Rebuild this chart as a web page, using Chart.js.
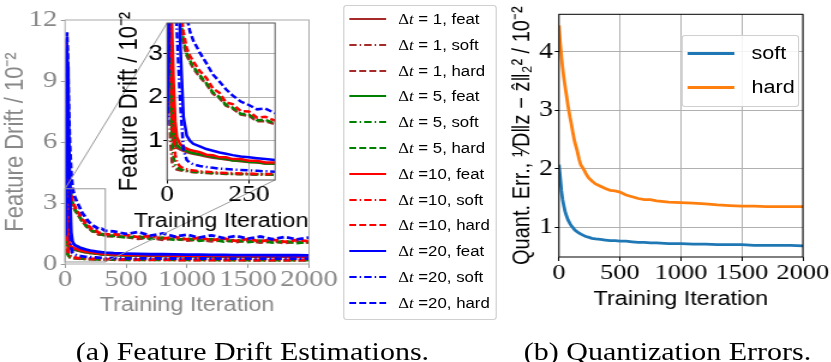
<!DOCTYPE html>
<html>
<head>
<meta charset="utf-8">
<script src="https://cdn.jsdelivr.net/npm/chart.js@4.4.1/dist/chart.umd.min.js"></script>
<style>
  html, body { margin: 0; padding: 0; background: #fff; overflow: hidden; }
  /* the figure is wider than tall in the original: draw at 1/1.2 and stretch */
  #page { position: relative; width: 692.5px; height: 362px; transform: scaleX(1.2); transform-origin: 0 0;
          font-family: 'Liberation Sans', Arial, sans-serif; }
  #page canvas { position: absolute; top: 0; }
  .legend { position: absolute; box-sizing: border-box; border: 1px solid #d0d0d0; border-radius: 3px;
            background: rgba(255,255,255,0.85); }
  .legend .row { position: absolute; left: 0; right: 0; height: 20px; }
  .legend svg, .legend .swatch { position: absolute; }
  .legend span.txt { position: absolute; top: 0; line-height: 20px; white-space: pre; color: #000; }
  .legend .m { font-family: 'Liberation Serif', serif; }
  .caption { position: absolute; top: 339px; font: 25px 'Liberation Serif', serif; line-height: 26px;
             text-align: center; white-space: nowrap; color: #000; }
</style>
</head>
<body>
<div id="page">
  <canvas id="cMain"  width="283" height="320" style="left:0;width:283px;height:320px"></canvas>
  <canvas id="cInset" width="175" height="240" style="left:95px;width:175px;height:240px;z-index:2"></canvas>
  <canvas id="cQuant" width="277" height="320" style="left:415px;width:277px;height:320px"></canvas>
  <div id="driftLegend" class="legend" style="left:285.8px;top:5px;width:128.4px;height:315px"></div>
  <div id="quantLegend" class="legend" style="left:568.3px;top:35px;width:97.5px;height:72px"></div>
  <div class="caption" style="left:10.4px;width:400px">(a) Feature Drift Estimations.</div>
  <div class="caption" style="left:406.3px;width:300px">(b) Quantization Errors.</div>
</div>
<script>
// ── DATA: feature drift (left) ──
const ITER = [0, 5, 10, 15, 20, 25, 30, 40, 50, 60, 70, 80, 100, 120, 140, 160, 180, 200, 225, 250,
              275, 300, 330, 400, 500, 600, 700, 800, 900, 1000, 1100, 1200, 1300, 1400, 1500, 1600,
              1700, 1800, 1900, 2000];

const FEAT_1  = [1.95, 4.0, 2.2, 1.2, 0.95, 0.88, 0.84, 0.8, 0.77, 0.74, 0.72, 0.7, 0.67, 0.64, 0.61, 0.59, 0.57, 0.55, 0.53, 0.51,
                 0.5, 0.48, 0.47, 0.44, 0.42, 0.41, 0.4, 0.4, 0.39, 0.39, 0.38, 0.38, 0.37, 0.37, 0.37, 0.36, 0.36, 0.36, 0.35, 0.35];
const SOFT_1  = [1.8, 2.5, 1.0, 0.52, 0.4, 0.36, 0.34, 0.32, 0.31, 0.3, 0.29, 0.28, 0.27, 0.26, 0.25, 0.25, 0.24, 0.24, 0.23, 0.23,
                 0.22, 0.22, 0.22, 0.21, 0.21, 0.2, 0.2, 0.2, 0.2, 0.19, 0.19, 0.19, 0.19, 0.19, 0.18, 0.18, 0.18, 0.18, 0.18, 0.18];
const HARD_1  = [1.9, 11.0, 9.4, 7.6, 6.2, 5.3, 4.6, 3.75, 3.22, 2.95, 2.8, 2.66, 2.46, 2.3, 2.08, 1.98, 1.8, 1.74, 1.6, 1.57,
                 1.45, 1.45, 1.38, 1.36, 1.33, 1.24, 1.29, 1.19, 1.25, 1.15, 1.21, 1.11, 1.18, 1.08, 1.15, 1.05, 1.12, 1.03, 1.1, 1.05];

const FEAT_5  = [1.9, 5.2, 3.8, 2.4, 1.4, 1.02, 0.9, 0.84, 0.8, 0.77, 0.74, 0.72, 0.69, 0.66, 0.63, 0.6, 0.59, 0.55, 0.55, 0.51,
                 0.51, 0.48, 0.48, 0.45, 0.43, 0.42, 0.41, 0.4, 0.4, 0.39, 0.39, 0.38, 0.38, 0.38, 0.37, 0.37, 0.37, 0.36, 0.36, 0.36];
const SOFT_5  = [1.7, 3.9, 2.3, 1.1, 0.62, 0.45, 0.39, 0.35, 0.33, 0.31, 0.3, 0.29, 0.28, 0.27, 0.26, 0.25, 0.25, 0.24, 0.24, 0.23,
                 0.23, 0.23, 0.22, 0.22, 0.21, 0.21, 0.21, 0.2, 0.2, 0.2, 0.2, 0.2, 0.19, 0.19, 0.19, 0.19, 0.19, 0.19, 0.19, 0.19];
const HARD_5  = [2.0, 9.4, 10.4, 8.4, 6.7, 5.6, 4.8, 3.85, 3.3, 3.0, 2.84, 2.7, 2.5, 2.32, 2.11, 2.0, 1.82, 1.76, 1.62, 1.6,
                 1.47, 1.48, 1.4, 1.39, 1.3, 1.36, 1.23, 1.3, 1.18, 1.25, 1.14, 1.22, 1.1, 1.18, 1.08, 1.15, 1.05, 1.13, 1.03, 1.09];

const FEAT_10 = [1.85, 6.1, 5.0, 3.6, 2.3, 1.45, 1.08, 0.92, 0.86, 0.82, 0.79, 0.77, 0.74, 0.68, 0.67, 0.62, 0.62, 0.58, 0.58, 0.54,
                 0.54, 0.5, 0.5, 0.47, 0.45, 0.44, 0.43, 0.42, 0.41, 0.41, 0.4, 0.4, 0.39, 0.39, 0.39, 0.38, 0.38, 0.38, 0.37, 0.37];
const SOFT_10 = [1.6, 4.9, 3.4, 2.1, 1.15, 0.68, 0.5, 0.41, 0.37, 0.35, 0.33, 0.32, 0.3, 0.29, 0.28, 0.27, 0.26, 0.26, 0.25, 0.25,
                 0.24, 0.24, 0.24, 0.23, 0.23, 0.22, 0.22, 0.22, 0.21, 0.21, 0.21, 0.21, 0.21, 0.2, 0.2, 0.2, 0.2, 0.2, 0.2, 0.2];
const HARD_10 = [1.9, 8.2, 11.1, 9.2, 7.3, 6.0, 5.1, 4.1, 3.5, 3.12, 2.95, 2.82, 2.6, 2.44, 2.2, 2.1, 1.88, 1.84, 1.68, 1.67,
                 1.53, 1.55, 1.46, 1.46, 1.43, 1.32, 1.38, 1.25, 1.33, 1.21, 1.3, 1.17, 1.26, 1.14, 1.23, 1.11, 1.2, 1.09, 1.18, 1.12];

const FEAT_20 = [1.5, 3.6, 7.2, 10.6, 9.7, 8.2, 6.6, 3.3, 1.55, 1.12, 1.0, 0.93, 0.87, 0.81, 0.77, 0.73, 0.7, 0.67, 0.64, 0.62,
                 0.6, 0.58, 0.56, 0.53, 0.51, 0.5, 0.48, 0.48, 0.47, 0.46, 0.46, 0.45, 0.45, 0.44, 0.44, 0.44, 0.43, 0.43, 0.43, 0.42];
const SOFT_20 = [1.35, 2.8, 4.8, 6.0, 5.3, 4.4, 3.5, 1.9, 0.8, 0.56, 0.49, 0.46, 0.42, 0.4, 0.38, 0.36, 0.35, 0.34, 0.33, 0.32,
                 0.31, 0.3, 0.29, 0.29, 0.28, 0.28, 0.28, 0.27, 0.27, 0.27, 0.27, 0.27, 0.26, 0.26, 0.26, 0.26, 0.26, 0.26, 0.26, 0.26];
const HARD_20 = [1.7, 4.2, 8.6, 11.4, 10.6, 9.0, 7.6, 5.7, 4.5, 3.85, 3.5, 3.3, 3.02, 2.78, 2.52, 2.36, 2.18, 2.04, 1.9, 1.82,
                 1.72, 1.74, 1.63, 1.6, 1.48, 1.57, 1.4, 1.5, 1.35, 1.44, 1.3, 1.41, 1.27, 1.38, 1.25, 1.35, 1.22, 1.33, 1.21, 1.3];

const DT        = [1, 5, 10, 20];
const DT_COLORS = ['#a52a2a', '#008000', '#ff0000', '#0000ff'];
const KINDS     = ['feat', 'soft', 'hard'];
const DASHES    = { feat: [], soft: [6.2, 2.5, 1.3, 2.5], hard: [5.8, 2.6] };
const SERIES = {
  feat: { 1: FEAT_1, 5: FEAT_5, 10: FEAT_10, 20: FEAT_20 },
  soft: { 1: SOFT_1, 5: SOFT_5, 10: SOFT_10, 20: SOFT_20 },
  hard: { 1: HARD_1, 5: HARD_5, 10: HARD_10, 20: HARD_20 },
};

const MAIN_X_TICKS  = [0, 500, 1000, 1500, 2000];
const MAIN_Y_TICKS  = [0, 3, 6, 9, 12];
const INSET_X_TICKS = [0, 250];
const INSET_Y_TICKS = [1, 2, 3];
const INSET_X_RANGE = [0, 330];
const INSET_Y_RANGE = [0.1, 3.7];

// ── DATA: quantization error (right) ──
const Q_ITER = [0, 10, 20, 30, 40, 50, 60, 75, 90, 100, 115, 130, 150, 165, 180, 200, 220, 240, 270, 300, 340,
                380, 420, 460, 500, 550, 600, 650, 700, 750, 800, 900, 1000, 1100, 1200, 1300, 1400, 1500,
                1600, 1700, 1800, 1900, 2000];
const Q_SOFT = [2.07, 1.85, 1.62, 1.47, 1.36, 1.27, 1.2, 1.12, 1.06, 1.03, 0.99, 0.95, 0.92, 0.9, 0.88, 0.86, 0.84,
                0.83, 0.81, 0.8, 0.79, 0.78, 0.77, 0.77, 0.76, 0.76, 0.75, 0.74, 0.74, 0.73, 0.73, 0.72, 0.72,
                0.71, 0.71, 0.7, 0.7, 0.7, 0.69, 0.69, 0.69, 0.69, 0.68];
const Q_HARD = [4.45, 4.15, 3.92, 3.72, 3.55, 3.41, 3.27, 3.06, 2.88, 2.78, 2.6, 2.45, 2.3, 2.16, 2.06, 2.0, 1.92,
                1.85, 1.79, 1.74, 1.7, 1.66, 1.63, 1.62, 1.6, 1.55, 1.52, 1.49, 1.47, 1.47, 1.45, 1.43, 1.42,
                1.41, 1.4, 1.38, 1.37, 1.36, 1.36, 1.35, 1.35, 1.35, 1.35];
const Q_LABELS = ['soft', 'hard'];
const Q_COLORS = ['#1f77b4', '#ff7f0e'];
const Q_Y_TICKS = [1, 2, 3, 4];

const SERIF = "'Liberation Serif', serif";
const SANS  = "'Liberation Sans', Arial, sans-serif";

// ── PLUGINS ──
const framePlugin = {
  id: 'frame',
  afterDatasetsDraw(chart, args, o) {
    const { ctx, chartArea: a } = chart;
    ctx.save();
    ctx.strokeStyle = o.color;
    ctx.lineWidth = 1;
    ctx.strokeRect(a.left, a.top, a.right - a.left, a.bottom - a.top);
    ctx.restore();
  },
};

const areaFill = {
  id: 'areaFill',
  beforeDraw(chart) {
    const { ctx, chartArea: a } = chart;
    ctx.save();
    ctx.fillStyle = '#fff';
    ctx.fillRect(a.left, a.top, a.right - a.left, a.bottom - a.top);
    ctx.restore();
  },
};

// axis titles drawn by hand so they are not squeezed to the plot width
const axisTitles = {
  id: 'axisTitles',
  afterDraw(chart, args, o) {
    const { ctx, chartArea: a } = chart;
    ctx.save();
    ctx.fillStyle = o.color;
    ctx.textAlign = 'center';
    ctx.textBaseline = 'middle';
    ctx.font = o.xFont;
    ctx.fillText(o.x, (a.left + a.right) / 2, a.bottom + o.xGap);
    ctx.font = o.yFont;
    ctx.translate(a.left - o.yGap, (a.top + a.bottom) / 2);
    ctx.rotate(-Math.PI / 2);
    ctx.fillText(o.y, 0, 0);
    ctx.restore();
  },
};

let insetChart = null;
const INSET_LEFT = 95;

// rectangle on the main axes + the two connector lines to the inset
const zoomBox = {
  id: 'zoomBox',
  afterDatasetsDraw(chart) {
    if (!insetChart) return;
    const { ctx, scales: { x, y } } = chart;
    const l = x.getPixelForValue(INSET_X_RANGE[0]), r = x.getPixelForValue(INSET_X_RANGE[1]);
    const t = y.getPixelForValue(INSET_Y_RANGE[1]), b = y.getPixelForValue(INSET_Y_RANGE[0]);
    const ia = insetChart.chartArea;
    ctx.save();
    ctx.strokeStyle = '#9a9a9a';
    ctx.lineWidth = 1;
    ctx.strokeRect(l, t, r - l, b - t);
    ctx.beginPath();
    ctx.moveTo(l, t);
    ctx.lineTo(INSET_LEFT + ia.left, ia.top);
    ctx.moveTo(r, b);
    ctx.lineTo(INSET_LEFT + ia.right, ia.bottom);
    ctx.stroke();
    ctx.restore();
  },
};

// ── HELPERS ──
function driftDatasets(width) {
  const out = [];
  let k = 0;
  DT.forEach((dt, i) => KINDS.forEach(kind => {
    const vals = SERIES[kind][dt];
    out.push({
      label: `Δt = ${dt}, ${kind}`,
      data: ITER.map((x, j) => ({ x, y: vals[j] })),
      borderColor: DT_COLORS[i],
      borderDash: DASHES[kind],
      borderWidth: width,
      pointRadius: 0,
      tension: 0,
      order: 12 - k++,
    });
  }));
  return out;
}

function scaleOpts(o) {
  return {
    type: 'linear',
    min: o.range[0],
    max: o.range[1],
    afterBuildTicks: s => { s.ticks = o.ticks.map(v => ({ value: v })); },
    afterFit: s => { if (o.width != null) s.width = o.width; else s.height = o.height; },
    grid: { drawOnChartArea: o.grid, color: '#b0b0b0', lineWidth: 1, tickLength: o.tickLen, tickColor: o.tickColor },
    border: { display: false },
    ticks: { font: o.font, color: o.color, padding: o.pad, maxRotation: 0, autoSkip: false, callback: v => String(v) },
  };
}

const BASE = {
  responsive: false,
  animation: false,
  events: [],
  plugins: { legend: { display: false }, tooltip: { enabled: false } },
};

// ── INSET (created first so the main chart can read its area) ──
insetChart = new Chart(document.getElementById('cInset'), {
  type: 'line',
  data: { datasets: driftDatasets(2.5) },
  options: {
    ...BASE,
    layout: { padding: { top: 23, right: 40.8, left: 0, bottom: 0 } },
    scales: {
      x: scaleOpts({ range: INSET_X_RANGE, ticks: INSET_X_TICKS, height: 60, grid: true, tickLen: 3.5,
                     tickColor: '#000', color: '#000', pad: 0, font: { family: SERIF, size: 23, lineHeight: 1 } }),
      y: scaleOpts({ range: INSET_Y_RANGE, ticks: INSET_Y_TICKS, width: 44.2, grid: true, tickLen: 3,
                     tickColor: '#000', color: '#000', pad: 0.5, font: { family: SANS, size: 22, lineHeight: 1 } }),
    },
    plugins: {
      ...BASE.plugins,
      frame: { color: '#555' },
      axisTitles: { color: '#000', x: 'Training Iteration', y: 'Feature Drift / 10⁻²',
                    xFont: `19.5px ${SANS}`, yFont: `22px ${SANS}`, xGap: 42, yGap: 31.6 },
    },
  },
  plugins: [areaFill, framePlugin, axisTitles],
});

// ── MAIN DRIFT CHART ──
new Chart(document.getElementById('cMain'), {
  type: 'line',
  data: { datasets: driftDatasets(2.8) },
  options: {
    ...BASE,
    layout: { padding: { top: 20, right: 25.5, left: 0, bottom: 0 } },
    scales: {
      x: scaleOpts({ range: [0, 2000], ticks: MAIN_X_TICKS, height: 56, grid: false, tickLen: 4,
                     tickColor: '#999', color: '#888', pad: 0, font: { family: SERIF, size: 24, lineHeight: 1 } }),
      y: scaleOpts({ range: [0, 12], ticks: MAIN_Y_TICKS, width: 54.2, grid: false, tickLen: 3.5,
                     tickColor: '#999', color: '#888', pad: 3, font: { family: SERIF, size: 24, lineHeight: 1 } }),
    },
    plugins: {
      ...BASE.plugins,
      frame: { color: '#aaa' },
      axisTitles: { color: '#888', x: 'Training Iteration', y: 'Feature Drift / 10⁻²',
                    xFont: `19.5px ${SANS}`, yFont: `22px ${SANS}`, xGap: 42, yGap: 41.7 },
    },
  },
  plugins: [framePlugin, zoomBox, axisTitles],
});

// ── QUANTIZATION ERROR CHART ──
new Chart(document.getElementById('cQuant'), {
  type: 'line',
  data: {
    datasets: [Q_SOFT, Q_HARD].map((vals, i) => ({
      label: Q_LABELS[i],
      data: Q_ITER.map((x, j) => ({ x, y: vals[j] })),
      borderColor: Q_COLORS[i],
      borderWidth: 2.8,
      pointRadius: 0,
      tension: 0,
    })),
  },
  options: {
    ...BASE,
    layout: { padding: { top: 14.3, right: 8.2, left: 0, bottom: 0 } },
    scales: {
      x: scaleOpts({ range: [0, 2000], ticks: MAIN_X_TICKS, height: 63, grid: true, tickLen: 4,
                     tickColor: '#000', color: '#000', pad: 1, font: { family: SERIF, size: 22, lineHeight: 1 } }),
      y: scaleOpts({ range: [0.49, 4.64], ticks: Q_Y_TICKS, width: 50.8, grid: true, tickLen: 3.5,
                     tickColor: '#000', color: '#000', pad: 1.5, font: { family: SERIF, size: 23, lineHeight: 1 } }),
    },
    plugins: {
      ...BASE.plugins,
      frame: { color: '#000' },
      axisTitles: { color: '#000', x: 'Training Iteration', y: 'Quant. Err., ¹⁄D‖z − ẑ‖₂² / 10⁻²',
                    xFont: `19.5px ${SANS}`, yFont: `20px ${SANS}`, xGap: 43, yGap: 30.4 },
    },
  },
  plugins: [framePlugin, axisTitles],
});

// ── LEGENDS ──
const driftLegend = document.getElementById('driftLegend');
DT.forEach((dt, i) => KINDS.forEach((kind, j) => {
  const n = i * 3 + j;
  const row = document.createElement('div');
  row.className = 'row';
  row.style.top = (3 + n * 25.8) + 'px';
  const dash = DASHES[kind].length ? `stroke-dasharray="${DASHES[kind].join(',')}"` : '';
  row.innerHTML =
    `<svg width="31" height="6" style="left:4px;top:7px"><line x1="0" y1="3" x2="31" y2="3" stroke="${DT_COLORS[i]}" stroke-width="2" ${dash}/></svg>` +
    `<span class="txt" style="left:45px;font-size:14px"><span class="m">Δ<i>t</i></span> =${dt < 10 ? ' ' : ''}${dt}, ${kind}</span>`;
  driftLegend.appendChild(row);
}));

const quantLegend = document.getElementById('quantLegend');
Q_LABELS.forEach((lab, i) => {
  const row = document.createElement('div');
  row.className = 'row';
  row.style.top = (7 + i * 34) + 'px';
  row.innerHTML =
    `<div class="swatch" style="left:4px;top:8.5px;width:39px;height:3px;background:${Q_COLORS[i]}"></div>` +
    `<span class="txt" style="left:57px;font-size:18px">${lab}</span>`;
  quantLegend.appendChild(row);
});
</script>
</body>
</html>
